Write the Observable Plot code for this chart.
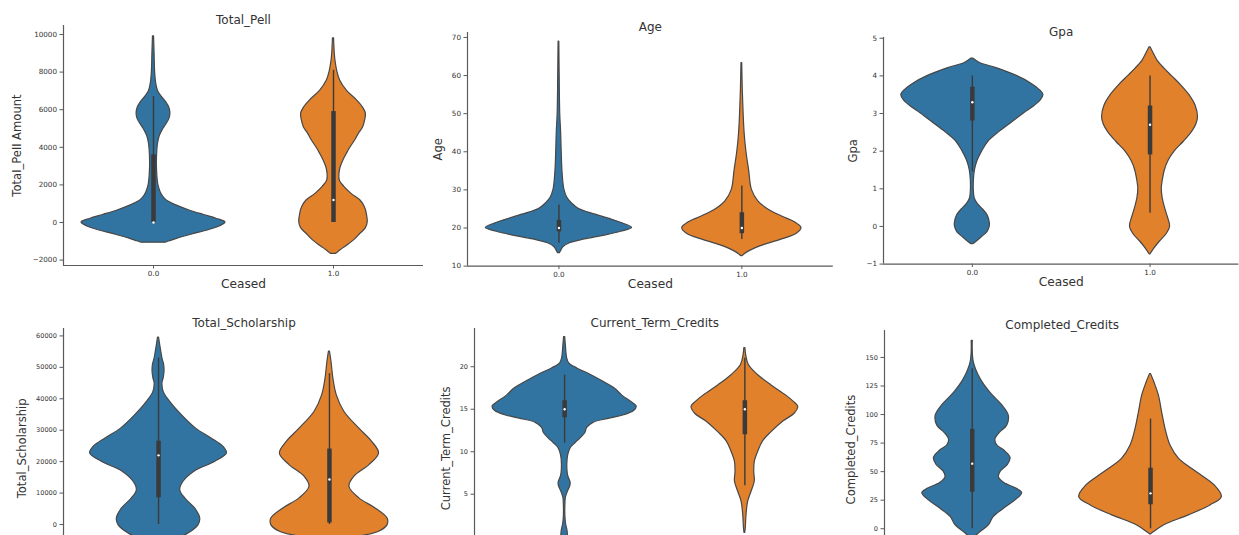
<!DOCTYPE html>
<html>
<head>
<meta charset="utf-8">
<script src="https://cdn.jsdelivr.net/npm/d3@7"></script>
<script src="https://cdn.jsdelivr.net/npm/@observablehq/plot@0.6"></script>
<style>
  body { margin: 0; background: #fff; }
  #fig { position: relative; width: 1239px; height: 535px; overflow: hidden; background: #fff; font-family: "DejaVu Sans", sans-serif; }
  #fig svg { position: absolute; }
</style>
</head>
<body>
<div id="fig"></div>
<script>
// Ceased groups on the x axis
const ceased = [0, 1];

// Violin outlines: [value, half-width in x units], top to bottom
const pell0 = [[9900,0.003],[9000,0.006],[8000,0.009],[7400,0.015],[7000,0.025],[6700,0.045],[6400,0.07],[6100,0.088],[5800,0.094],[5500,0.088],[5200,0.07],[4900,0.05],[4600,0.035],[4200,0.025],[3600,0.02],[3000,0.019],[2400,0.022],[2000,0.027],[1600,0.04],[1300,0.06],[1100,0.085],[900,0.13],[640,0.2],[400,0.28],[200,0.35],[0,0.40],[-200,0.37],[-425,0.30],[-650,0.21],[-870,0.13],[-1000,0.09],[-1075,0.067]];
const pell1 = [[9800,0.003],[9000,0.007],[8600,0.011],[8000,0.022],[7550,0.037],[7000,0.075],[6500,0.13],[6100,0.165],[5780,0.18],[5400,0.175],[5070,0.165],[4700,0.14],[4360,0.12],[4000,0.095],[3650,0.074],[3300,0.055],[2940,0.04],[2600,0.033],[2230,0.035],[1900,0.06],[1525,0.10],[1170,0.15],[800,0.175],[460,0.185],[0,0.19],[-300,0.18],[-600,0.15],[-900,0.12],[-1130,0.09],[-1300,0.065],[-1490,0.037],[-1670,0.015]];

const age0 = [[68.9,0.002],[60,0.004],[50,0.007],[45,0.012],[40,0.015],[36,0.018],[32,0.024],[30,0.03],[28,0.045],[26.5,0.07],[25,0.11],[23.5,0.2],[22,0.30],[21,0.36],[20,0.40],[19,0.34],[18,0.25],[17,0.14],[16,0.06],[15,0.025],[14,0.012],[13.4,0.005]];
const age1 = [[63.3,0.002],[55,0.006],[45,0.015],[40,0.025],[35,0.04],[30,0.055],[27,0.09],[25,0.14],[23,0.22],[21.5,0.29],[20,0.326],[18.5,0.30],[17,0.22],[15.5,0.12],[14,0.045],[13,0.012],[12.6,0.003]];

const gpa0 = [[4.46,0.005],[4.35,0.04],[4.2,0.14],[4.0,0.25],[3.8,0.33],[3.6,0.385],[3.5,0.40],[3.35,0.385],[3.2,0.35],[3.0,0.29],[2.75,0.22],[2.5,0.15],[2.25,0.09],[2.0,0.056],[1.75,0.03],[1.5,0.015],[1.25,0.009],[1.0,0.008],[0.75,0.013],[0.6,0.03],[0.45,0.06],[0.3,0.085],[0.1,0.098],[0,0.098],[-0.15,0.085],[-0.3,0.05],[-0.42,0.02],[-0.47,0.005]];
const gpa1 = [[4.76,0.003],[4.6,0.02],[4.4,0.043],[4.2,0.08],[4.0,0.122],[3.75,0.175],[3.5,0.22],[3.2,0.257],[2.9,0.27],[2.7,0.26],[2.5,0.235],[2.25,0.19],[2.0,0.14],[1.75,0.105],[1.5,0.084],[1.2,0.071],[1.0,0.066],[0.75,0.071],[0.5,0.084],[0.25,0.10],[0,0.113],[-0.2,0.094],[-0.4,0.056],[-0.6,0.022],[-0.74,0.003]];

const schol0 = [[59500,0.003],[57000,0.01],[52800,0.023],[50700,0.033],[48600,0.035],[46500,0.03],[45000,0.023],[42200,0.03],[39000,0.068],[34800,0.136],[30500,0.22],[27400,0.31],[24700,0.38],[22600,0.40],[19900,0.33],[16800,0.21],[13600,0.146],[10900,0.127],[8300,0.156],[5100,0.214],[1900,0.244],[-200,0.234],[-2900,0.175],[-5000,0.09],[-7000,0.02],[-8000,0.003]];
const schol1 = [[55000,0.003],[51700,0.012],[46400,0.023],[41100,0.043],[35800,0.088],[30500,0.175],[26300,0.25],[22600,0.29],[18900,0.234],[15200,0.146],[12000,0.117],[8300,0.175],[5100,0.27],[1900,0.34],[-200,0.34],[-2300,0.29],[-4000,0.17],[-6000,0.06],[-7500,0.005]];

const ctc0 = [[23.5,0.003],[22.5,0.007],[21,0.014],[20.4,0.025],[19.8,0.07],[19.2,0.13],[18.4,0.2],[17.4,0.28],[16.6,0.32],[15.7,0.38],[15.3,0.40],[14.8,0.385],[14.3,0.33],[13.9,0.25],[13.4,0.16],[12.8,0.125],[12.2,0.115],[11.6,0.09],[11.0,0.06],[10.4,0.033],[9.6,0.02],[8.5,0.015],[7.5,0.017],[7,0.022],[6.4,0.033],[6.0,0.032],[5.3,0.018],[4.6,0.007],[3.5,0.004],[2.5,0.004],[1.5,0.008],[0.7,0.016],[0,0.018],[-0.8,0.01],[-1.5,0.002]];
const ctc1 = [[22.2,0.003],[21.4,0.007],[20.2,0.022],[19,0.074],[17.8,0.148],[16.6,0.23],[15.9,0.27],[15.3,0.296],[14.5,0.277],[13.5,0.21],[12.3,0.148],[11.2,0.10],[10,0.074],[8.8,0.055],[7.6,0.052],[6.5,0.055],[5.3,0.037],[4.1,0.018],[2.5,0.009],[1,0.005],[0.45,0.002]];

const cc0 = [[164.6,0.003],[145.6,0.009],[131,0.047],[119.4,0.10],[107.8,0.17],[99,0.205],[90.3,0.196],[84,0.155],[78,0.13],[73,0.14],[68.5,0.18],[62,0.215],[56,0.2],[50,0.16],[45,0.15],[40,0.18],[35,0.25],[31.2,0.28],[24.8,0.243],[17.5,0.178],[10.2,0.12],[2.9,0.093],[-2.9,0.047],[-8,0.01]];
const cc1 = [[135.4,0.003],[128,0.022],[116.5,0.047],[102,0.065],[87.4,0.084],[72.8,0.112],[61.2,0.16],[49.5,0.26],[37.9,0.36],[27.7,0.40],[20.4,0.336],[11.7,0.215],[2.9,0.075],[-2.9,0.02],[-5,0.002]];

// Inner box summaries: whisker ends, quartiles, median
const pellBox  = [{ceased:0, lo:0, q1:0, med:0, q3:3600, hi:6700}, {ceased:1, lo:0, q1:0, med:1200, q3:5900, hi:8100}];
const ageBox   = [{ceased:0, lo:16, q1:19, med:20, q3:22, hi:26}, {ceased:1, lo:17, q1:18.5, med:20, q3:24, hi:31}];
const gpaBox   = [{ceased:0, lo:1.45, q1:2.8, med:3.3, q3:3.7, hi:4.0}, {ceased:1, lo:0.35, q1:1.9, med:2.7, q3:3.2, hi:4.0}];
const scholBox = [{ceased:0, lo:0, q1:8500, med:22000, q3:26500, hi:53000}, {ceased:1, lo:0, q1:500, med:14300, q3:24000, hi:48000}];
const ctcBox   = [{ceased:0, lo:11, q1:14, med:15, q3:16, hi:19}, {ceased:1, lo:6, q1:12, med:15, q3:16, hi:21}];
const ccBox    = [{ceased:0, lo:0, q1:32, med:57, q3:87, hi:140}, {ceased:1, lo:0, q1:21, med:31, q3:53, hi:96}];

// Y tick values
const pellTicks  = [-2000, 0, 2000, 4000, 6000, 8000, 10000];
const ageTicks   = [10, 20, 30, 40, 50, 60, 70];
const gpaTicks   = [-1, 0, 1, 2, 3, 4, 5];
const scholTicks = [0, 10000, 20000, 30000, 40000, 50000, 60000];
const ctcTicks   = [5, 10, 15, 20];
const ccTicks    = [0, 25, 50, 75, 100, 125, 150];

const FILLS = ["#3274a1", "#e1812c"];
const EDGE = "#474747", INK = "#333", SPINE = "#5a5a5a";

// Panel layout: frame = [left, top, right, bottom] in page pixels.
// The lower row runs past the bottom of the page, so its x axis is left out.
const panels = [
  {title:"Total_Pell", ylabel:"Total_Pell Amount", xlabel:"Ceased", v:[pell0,pell1], box:pellBox, ticks:pellTicks,
   frame:[63,25,423,265], x:[-0.5,1.5], y:[-2287,10479], ylDx:-46, tickFont:7.2},
  {title:"Age", ylabel:"Age", xlabel:"Ceased", v:[age0,age1], box:ageBox, ticks:ageTicks,
   frame:[466.7,31.7,832.5,265.3], x:[-0.5,1.5], y:[10,71.3], ylDx:-29, tickFont:7.2},
  {title:"Gpa", ylabel:"Gpa", xlabel:"Ceased", v:[gpa0,gpa1], box:gpaBox, ticks:gpaTicks,
   frame:[882.7,36.7,1238.1,263.3], x:[-0.5,1.5], y:[-1,5.02], ylDx:-30, tickFont:7.2},
  {title:"Total_Scholarship", ylabel:"Total_Scholarship", xlabel:null, v:[schol0,schol1], box:scholBox, ticks:scholTicks,
   frame:[63.3,328.3,424.3,568], x:[-0.556,1.556], y:[-13900,62360], ylDx:-41, tickFont:6.6},
  {title:"Current_Term_Credits", ylabel:"Current_Term_Credits", xlabel:null, v:[ctc0,ctc1], box:ctcBox, ticks:ctcTicks,
   frame:[473.8,328.3,834.3,568], x:[-0.5,1.5], y:[-3.7,24.5], ylDx:-28, tickFont:6.6},
  {title:"Completed_Credits", ylabel:"Completed_Credits", xlabel:null, v:[cc0,cc1], box:ccBox, ticks:ccTicks,
   frame:[884,330,1239.2,568], x:[-0.492,1.5], y:[-34.8,173.6], ylDx:-33, tickFont:6.6}
];

const fig = document.getElementById("fig");
const ML = 64, MT = 34, MR = 4, MB = 34;

for (const p of panels) {
  const [L, T, R, B] = p.frame;
  const marks = [
    ...p.v.map((v, i) => Plot.areaX(v, {
      y: d => d[0], x1: d => ceased[i] - d[1], x2: d => ceased[i] + d[1],
      fill: FILLS[i], stroke: EDGE, strokeWidth: 1.2, curve: "catmull-rom"
    })),
    Plot.ruleX(p.box, {x: "ceased", y1: "lo", y2: "hi", stroke: "#3a3a3a", strokeWidth: 1.4}),
    Plot.ruleX(p.box, {x: "ceased", y1: "q1", y2: "q3", stroke: "#3a3a3a", strokeWidth: 4.5}),
    Plot.dot(p.box, {x: "ceased", y: "med", r: 1.2, fill: "white", stroke: "none"}),
    Plot.ruleX([p.x[0]], {stroke: SPINE, strokeWidth: 1.2}),
    Plot.axisY({ticks: p.ticks, tickFormat: "d", tickSize: 3.5, tickPadding: 3, label: null, stroke: SPINE, fontSize: p.tickFont}),
    Plot.text([p.title], {text: d => d, frameAnchor: "top", dy: -10, fontSize: 12, fill: INK}),
    Plot.text([p.ylabel], {text: d => d, frameAnchor: "left", textAnchor: "middle", dx: p.ylDx, rotate: -90, fontSize: 11.6, fill: INK})
  ];
  if (p.xlabel) {
    marks.push(
      Plot.ruleY([p.y[0]], {stroke: SPINE, strokeWidth: 1.2}),
      Plot.axisX({ticks: ceased, tickFormat: ".1f", tickSize: 3.5, tickPadding: 2, label: null, stroke: SPINE, fontSize: p.tickFont}),
      Plot.text([p.xlabel], {text: d => d, frameAnchor: "bottom", dy: 22, fontSize: 12.2, fill: INK})
    );
  } else {
    marks.push(Plot.axisX({ticks: [], label: null}));
  }
  const chart = Plot.plot({
    width: ML + (R - L) + MR,
    height: MT + (B - T) + MB,
    marginLeft: ML, marginTop: MT, marginRight: MR, marginBottom: MB,
    style: {background: "none", overflow: "visible", maxWidth: "none",
            fontFamily: "DejaVu Sans, sans-serif", fontSize: "7.2px", color: INK},
    x: {domain: p.x},
    y: {domain: p.y},
    marks
  });
  chart.style.left = (L - ML) + "px";
  chart.style.top = (T - MT) + "px";
  fig.appendChild(chart);
}
</script>
</body>
</html>
